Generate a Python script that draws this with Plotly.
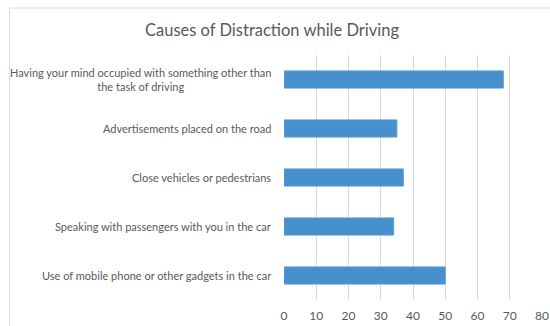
import plotly.graph_objects as go

categories = [
    "Use of mobile phone or other gadgets in the car",
    "Speaking with passengers with you in the car",
    "Close vehicles or pedestrians",
    "Advertisements placed on the road",
    "Having your mind occupied with something other than<br>the task of driving",
]
values = [50, 34, 37, 35, 68]
x_ticks = [0, 10, 20, 30, 40, 50, 60, 70, 80]

W, H = 550, 326
ML, MR, MT, MB = 284, 8, 55, 26
pw = W - ML - MR
ph = H - MT - MB

font_family = "Lato, 'Open Sans', sans-serif"
gray = "#595959"

fig = go.Figure()
fig.add_trace(go.Bar(
    x=values, y=categories, orientation="h",
    marker=dict(color="#4590cd", line=dict(color="#5b9bd5", width=1)),
    width=0.35,
))

annotations = []
for c in categories:
    annotations.append(dict(
        x=0, xref="paper", y=c, yref="y", xanchor="right", yanchor="middle",
        xshift=-11, text=c, showarrow=False, align="center",
        font=dict(family=font_family, size=11, color=gray),
    ))

fig.update_layout(
    width=W, height=H,
    margin=dict(l=ML, r=MR, t=MT, b=MB, autoexpand=False),
    paper_bgcolor="white", plot_bgcolor="white",
    title=dict(text="Causes of Distraction while Driving", x=272 / W, xref="container",
               xanchor="center", y=1 - 30 / H, yanchor="middle",
               font=dict(family=font_family, size=16.5, color=gray)),
    showlegend=False,
    annotations=annotations,
    shapes=[dict(type="rect", xref="paper", yref="paper",
                 x0=(9.5 - ML) / pw, x1=(560 - ML) / pw,
                 y0=(H - MB - 340) / ph, y1=(H - MB - 8) / ph,
                 line=dict(color="#d9d9d9", width=1), fillcolor="rgba(0,0,0,0)",
                 layer="below")],
    xaxis=dict(range=[0, 80], tickvals=x_ticks, showgrid=True, gridcolor="#d9d9d9",
               gridwidth=1, zeroline=False, showline=False, automargin=False,
               ticks="outside", ticklen=5, tickcolor="rgba(0,0,0,0)",
               tickfont=dict(family=font_family, size=12, color=gray)),
    yaxis=dict(showticklabels=False, showgrid=False, zeroline=False, ticks="",
               automargin=False),
)

fig.write_html("out.html")
